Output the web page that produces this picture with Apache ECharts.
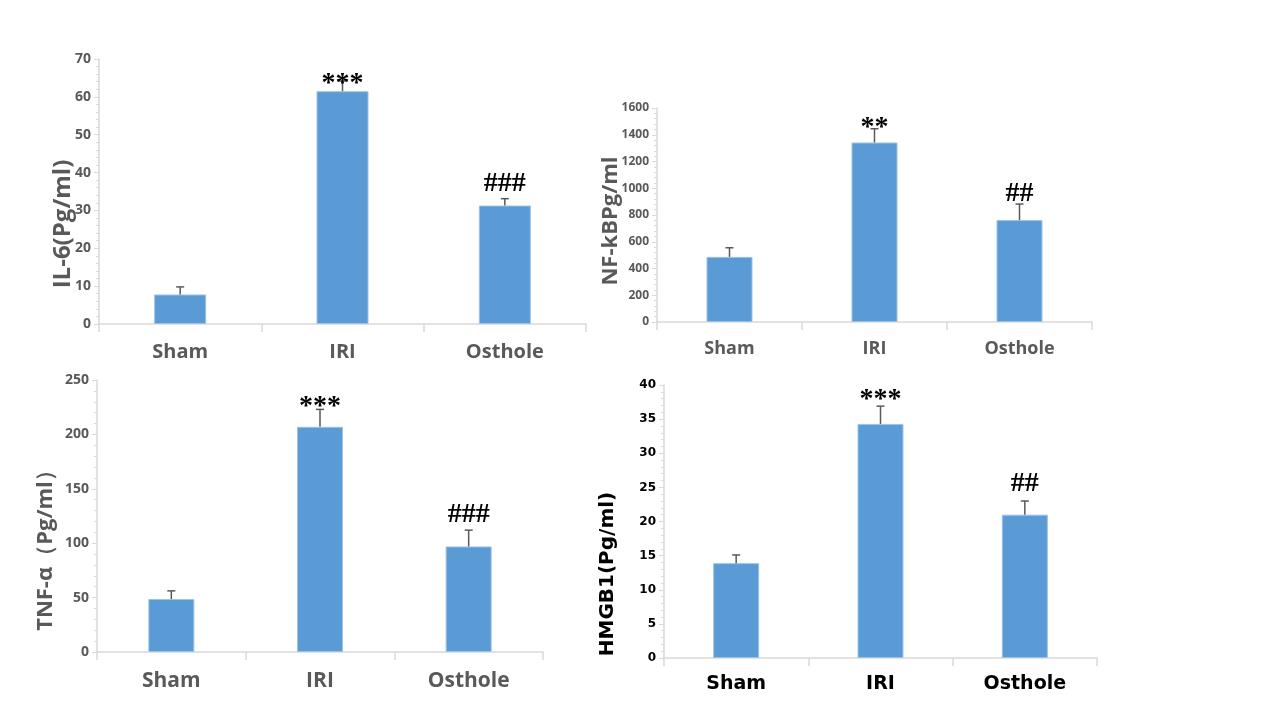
<!DOCTYPE html>
<html>
<head>
<meta charset="utf-8">
<script src="https://cdn.jsdelivr.net/npm/echarts@6/dist/echarts.min.js"></script>
<style>
  html, body { margin: 0; padding: 0; background: #fff; }
  #main { width: 1267px; height: 713px; }
</style>
</head>
<body>
<div id="main"></div>
<script>
const categories = ["Sham", "IRI", "Osthole"];

// IL-6 (Pg/ml)
const il6Mean = [7.8, 61.5, 31.3];
const il6Sd = [2.0, 2.7, 1.8];
const il6Marks = ["", "***", "###"];

// NF-kB (Pg/ml)
const nfkbMean = [487, 1342, 762];
const nfkbSd = [68, 103, 120];
const nfkbMarks = ["", "**", "##"];

// TNF-α (Pg/ml)
const tnfMean = [48.7, 207, 97];
const tnfSd = [7.5, 16, 15];
const tnfMarks = ["", "***", "###"];

// HMGB1 (Pg/ml)
const hmgbMean = [13.9, 34.3, 21.0];
const hmgbSd = [1.2, 2.6, 2.0];
const hmgbMarks = ["", "***", "##"];

const panels = [
  { name: "IL-6(Pg/ml)", mean: il6Mean, sd: il6Sd, marks: il6Marks, max: 70, interval: 10,
    grid: { left: 99, top: 59, width: 487, height: 265 }, barWidth: 52,
    font: "Open Sans", color: "#595959", tickSize: 14, catSize: 20, catMargin: 18,
    nameSize: 24, nameX: 63, nameY: 224, starDy: 17, hashDy: -1 },
  { name: "NF-kBPg/ml", mean: nfkbMean, sd: nfkbSd, marks: nfkbMarks, max: 1600, interval: 200,
    grid: { left: 657, top: 108, width: 435, height: 214 }, barWidth: 46,
    font: "Open Sans", color: "#595959", tickSize: 12, catSize: 18, catMargin: 18,
    nameSize: 22, nameX: 611, nameY: 221, starDy: 13, hashDy: 4 },
  { name: "TNF-α（Pg/ml）", mean: tnfMean, sd: tnfSd, marks: tnfMarks, max: 250, interval: 50,
    grid: { left: 97, top: 380, width: 446, height: 272 }, barWidth: 46,
    font: "Open Sans", color: "#595959", tickSize: 14, catSize: 21, catMargin: 19,
    nameSize: 22, nameX: 46, nameY: 545, starDy: 11, hashDy: -1 },
  { name: "HMGB1(Pg/ml)", mean: hmgbMean, sd: hmgbSd, marks: hmgbMarks, max: 40, interval: 5,
    grid: { left: 664, top: 385, width: 433, height: 273 }, barWidth: 46,
    font: "DejaVu Sans", color: "#000", tickSize: 12, catSize: 19, catMargin: 17,
    nameSize: 20, nameX: 608, nameY: 574, starDy: 8, hashDy: -3 }
];

const chart = echarts.init(document.getElementById("main"));

const grid = [], xAxis = [], yAxis = [], series = [], graphic = [];

panels.forEach((p, i) => {
  grid.push(p.grid);
  xAxis.push({
    type: "category",
    gridIndex: i,
    data: categories,
    axisLine: { lineStyle: { color: "#d9d9d9", width: 1.5 } },
    axisTick: { show: true, alignWithLabel: false, length: 8, lineStyle: { color: "#d9d9d9", width: 1.5 } },
    axisLabel: { fontFamily: p.font, fontWeight: "bold", fontSize: p.catSize, color: p.color, margin: p.catMargin }
  });
  yAxis.push({
    type: "value",
    gridIndex: i,
    min: 0,
    max: p.max,
    interval: p.interval,
    splitLine: { show: false },
    axisLine: { show: true, lineStyle: { color: "#d9d9d9", width: 1.5 } },
    axisTick: { show: true, length: 5, lineStyle: { color: "#d9d9d9" } },
    minorTick: { show: true, splitNumber: 5, length: 3, lineStyle: { color: "#d9d9d9" } },
    axisLabel: {
      fontFamily: p.font, fontWeight: "bold", fontSize: p.tickSize, color: p.color, margin: 8,
      formatter: (v) => String(v)
    }
  });
  series.push({
    type: "bar",
    xAxisIndex: i,
    yAxisIndex: i,
    data: p.mean,
    barWidth: p.barWidth,
    itemStyle: { color: "#5b9bd5", borderColor: "#9cc2e5", borderWidth: 1 },
    silent: true
  });
  series.push({
    type: "custom",
    xAxisIndex: i,
    yAxisIndex: i,
    data: p.mean.map((m, k) => [k, m, m + p.sd[k]]),
    z: 5,
    renderItem: (params, api) => {
      const base = api.coord([api.value(0), api.value(1)]);
      const top = api.coord([api.value(0), api.value(2)]);
      const mark = p.marks[params.dataIndex];
      const children = [
        { type: "line", shape: { x1: base[0], y1: base[1], x2: top[0], y2: top[1] },
          style: { stroke: "#595959", lineWidth: 1.5 } },
        { type: "line", shape: { x1: top[0] - 4, y1: top[1], x2: top[0] + 4, y2: top[1] },
          style: { stroke: "#595959", lineWidth: 1.5 } }
      ];
      if (mark) {
        const isHash = mark.indexOf("#") >= 0;
        children.push({
          type: "text",
          x: top[0],
          y: top[1] + (isHash ? p.hashDy : p.starDy),
          style: {
            text: mark,
            fill: "#000",
            font: "bold 28px 'Liberation Serif'",
            align: "center",
            verticalAlign: "bottom"
          },
          z2: 10
        });
      }
      return { type: "group", children: children };
    }
  });
  graphic.push({
    type: "text",
    x: p.nameX,
    y: p.nameY,
    rotation: Math.PI / 2,
    style: {
      text: p.name,
      fill: p.color,
      font: "bold " + p.nameSize + "px '" + p.font + "'",
      align: "center",
      verticalAlign: "middle"
    }
  });
});

chart.setOption({
  animation: false,
  backgroundColor: "#fff",
  grid: grid,
  xAxis: xAxis,
  yAxis: yAxis,
  series: series,
  graphic: graphic
});
</script>
</body>
</html>
